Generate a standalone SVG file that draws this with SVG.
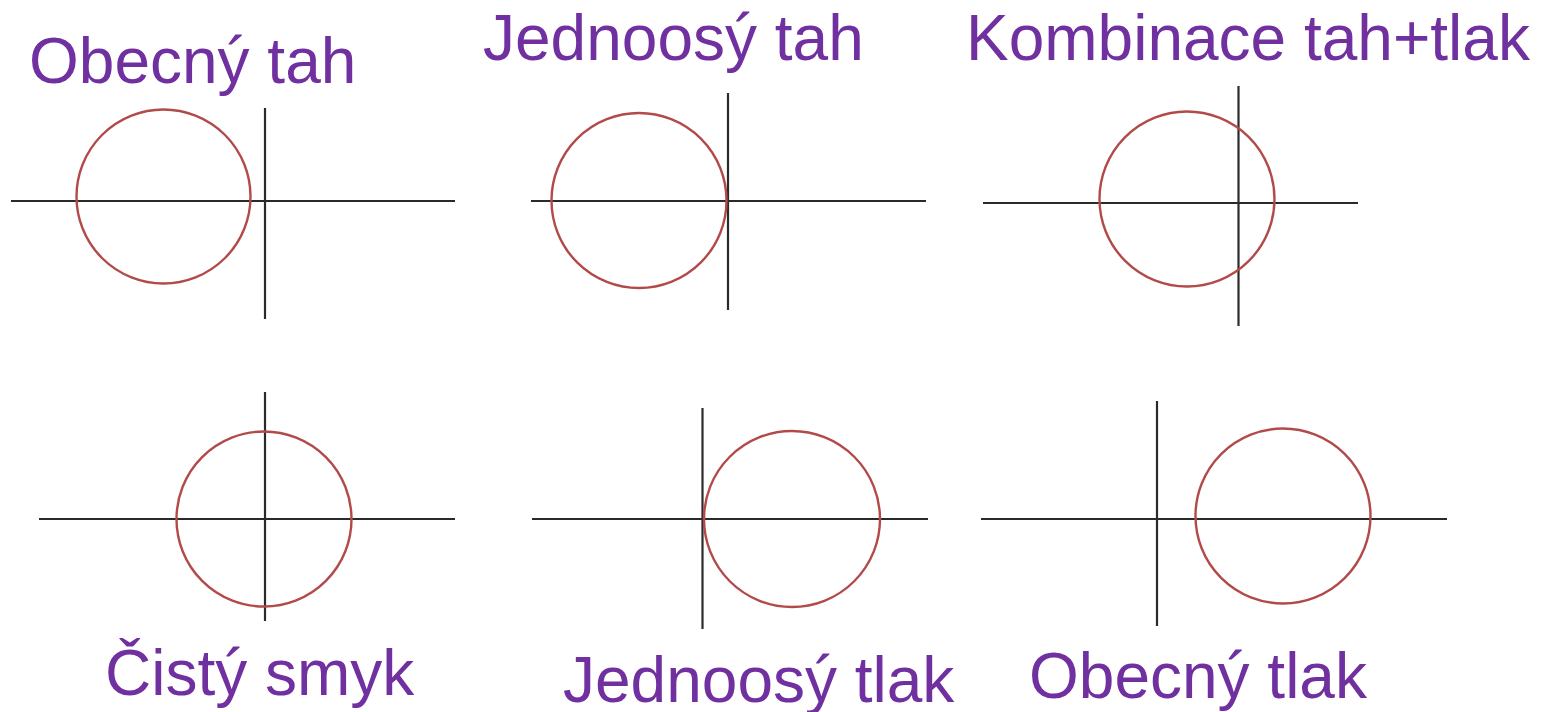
<svg xmlns="http://www.w3.org/2000/svg" width="1548" height="712" viewBox="0 0 1548 712">
<style>
.lbl{font-family:"Liberation Sans",Arial,sans-serif;font-size:64px;fill:#7030A0}
.ax{stroke:#2a2a2a;stroke-width:2.2;fill:none}
.c{stroke:#b34a4a;stroke-width:2.4;fill:none}
</style>
<rect width="1548" height="712" fill="#ffffff"/>
<g id="obecny-tah">
<text class="lbl" x="29" y="83">Obecný tah</text>
<line class="ax" x1="11" y1="201" x2="455" y2="201"/>
<line class="ax" x1="265" y1="108" x2="265" y2="319"/>
<circle class="c" cx="163.5" cy="196.5" r="87"/>
</g>
<g id="jednoosy-tah">
<text class="lbl" x="483" y="60">Jednoosý tah</text>
<line class="ax" x1="531" y1="201" x2="926" y2="201"/>
<line class="ax" x1="728" y1="93" x2="728" y2="310"/>
<circle class="c" cx="639" cy="200.5" r="87.5"/>
</g>
<g id="kombinace">
<text class="lbl" x="966" y="60">Kombinace tah+tlak</text>
<line class="ax" x1="983" y1="203" x2="1358" y2="203"/>
<line class="ax" x1="1238.5" y1="86" x2="1238.5" y2="326"/>
<circle class="c" cx="1187" cy="199" r="87.5"/>
</g>
<g id="cisty-smyk">
<text class="lbl" x="105" y="695">Čistý smyk</text>
<line class="ax" x1="39" y1="519" x2="455" y2="519"/>
<line class="ax" x1="265" y1="392" x2="265" y2="621"/>
<circle class="c" cx="264" cy="519" r="87.5"/>
</g>
<g id="jednoosy-tlak">
<text class="lbl" x="563" y="702">Jednoosý tlak</text>
<line class="ax" x1="532" y1="519" x2="928" y2="519"/>
<line class="ax" x1="702.5" y1="408" x2="702.5" y2="629"/>
<circle class="c" cx="792" cy="519" r="88"/>
</g>
<g id="obecny-tlak">
<text class="lbl" x="1029" y="698">Obecný tlak</text>
<line class="ax" x1="981" y1="519" x2="1447" y2="519"/>
<line class="ax" x1="1157" y1="401" x2="1157" y2="626"/>
<circle class="c" cx="1283" cy="516" r="87.5"/>
</g>
</svg>
